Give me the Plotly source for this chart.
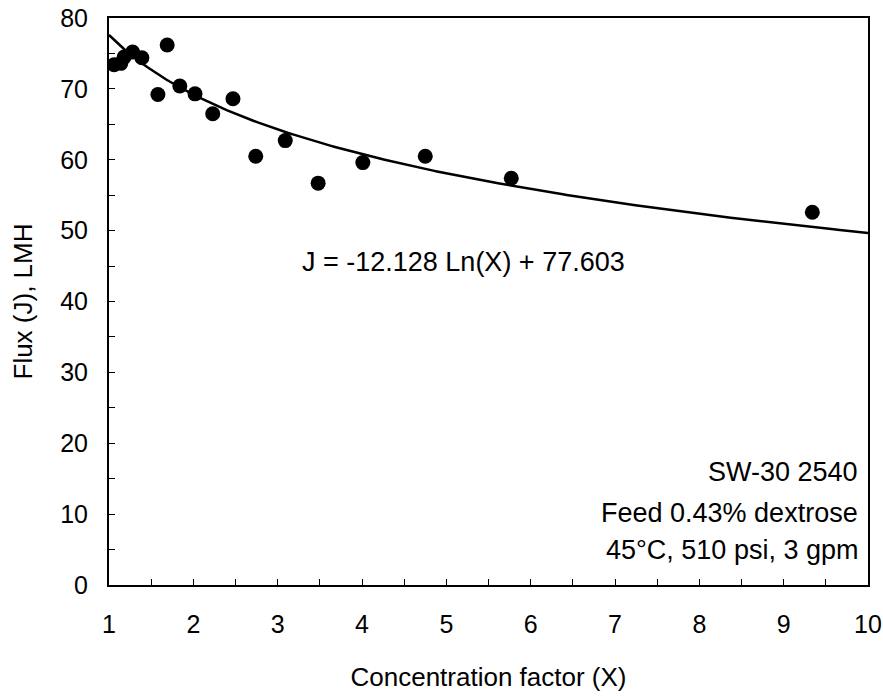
import numpy as np
import plotly.graph_objects as go

# measured concentration factor vs flux
conc_factor = [1.06, 1.14, 1.18, 1.28, 1.39, 1.58, 1.69, 1.84, 2.02, 2.23,
               2.47, 2.74, 3.09, 3.48, 4.01, 4.75, 5.77, 9.34]
flux = [73.4, 73.6, 74.5, 75.2, 74.4, 69.2, 76.2, 70.4, 69.3, 66.5,
        68.6, 60.5, 62.7, 56.7, 59.6, 60.5, 57.4, 52.6]

# log trendline coefficients (as printed on the chart)
fit_slope = -12.128
fit_intercept = 77.603
fit_x = np.linspace(1, 10, 200)
fit_y = fit_slope * np.log(fit_x) + fit_intercept

equation_text = "J = -12.128 Ln(X) + 77.603"
note_lines = ["SW-30 2540", "Feed 0.43% dextrose", "45°C, 510 psi, 3 gpm"]
note_y = [15.9, 10.2, 4.9]

FONT = "Arial, Liberation Sans, sans-serif"

fig = go.Figure()
fig.add_trace(go.Scatter(x=fit_x, y=fit_y, mode="lines",
                         line=dict(color="black", width=2.5),
                         hoverinfo="skip"))
fig.add_trace(go.Scatter(x=conc_factor, y=flux, mode="markers",
                         marker=dict(color="black", size=15)))

fig.add_annotation(x=3.27, y=45.6, text=equation_text, showarrow=False,
                   xanchor="left", font=dict(size=27, color="black"))
for line, yv in zip(note_lines, note_y):
    fig.add_annotation(x=0.99, xref="paper", y=yv,
                       text=line, showarrow=False, xanchor="right",
                       font=dict(size=27, color="black"))

fig.update_layout(
    width=883, height=696,
    showlegend=False,
    paper_bgcolor="white", plot_bgcolor="white",
    font=dict(family=FONT, size=25, color="black"),
    margin=dict(l=109, r=15, t=18, b=111),
)

fig.update_xaxes(
    range=[1, 10], dtick=1, tick0=1,
    showline=True, linecolor="black", linewidth=2, mirror=True,
    ticks="inside", ticklen=6, tickcolor="black",
    minor=dict(dtick=0.5, ticks="inside", ticklen=6, tickcolor="black"),
    showgrid=False, zeroline=False, automargin=False,
    ticklabelstandoff=16,
    title=dict(text="Concentration factor (X)", standoff=31, font=dict(size=26)),
)
fig.update_yaxes(
    range=[0, 80], dtick=10,
    showline=True, linecolor="black", linewidth=2, mirror=True,
    ticks="inside", ticklen=6, tickcolor="black",
    minor=dict(dtick=5, ticks="inside", ticklen=6, tickcolor="black"),
    showgrid=False, zeroline=False, automargin=False,
    ticklabelstandoff=14,
    title=dict(text="Flux (J), LMH", standoff=20, font=dict(size=26)),
)

# drop the default page margin so the figure fills the window exactly
fig.write_html("out.html", config={"displayModeBar": False},
               post_script="document.body.style.margin='0';")
